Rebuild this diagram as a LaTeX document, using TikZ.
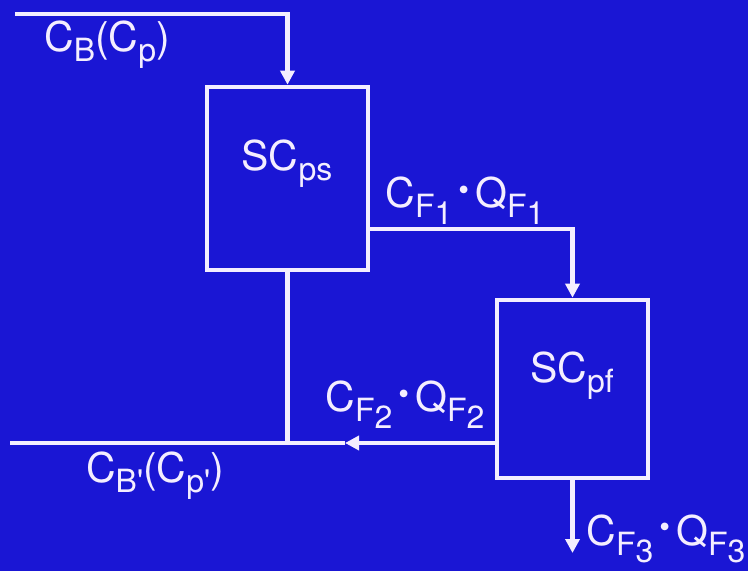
\documentclass[tikz,border=0pt]{standalone}
\usepackage{fontspec}
\setmainfont{TeX Gyre Heros}
\usetikzlibrary{positioning,arrows.meta,calc}
\definecolor{ground}{HTML}{1A16D4}
\definecolor{ink}{HTML}{F4EEFF}
\newcommand\lo[1]{\raisebox{-0.45ex}{\fontsize{16}{17}\selectfont #1}}
\newcommand\dotop{\kern3pt\raisebox{0.35ex}{\scalebox{0.75}{\textbullet}}\kern3pt}

\begin{document}
\begin{tikzpicture}[x=0.5pt,y=-0.5pt,
  line width=2.3pt,draw=ink,
  box/.style={draw=ink,line width=2.3pt,minimum width=#1,inner sep=0pt},
  flow/.style={-{Triangle[length=7pt,width=7pt]}},
  lbl/.style={text=ink,font=\fontsize{20.5}{22}\selectfont,inner sep=0pt}]
\fill[ground] (0,0) rectangle (748,571);
% stages
\node[box=80.5pt,minimum height=91.5pt] (ps) at (287.5,178.5) {};
\node[box=75.5pt,minimum height=89pt] (pf) at (572.5,389) {};
\node[lbl] (psl) at (287,164) {SC\lo{ps}};
\node[lbl] (pfl) at (572,376) {SC\lo{pf}};
% streams
\coordinate (in) at (15,14);
\coordinate (out) at (10,443);
\coordinate (tip) at (345,443);
\coordinate (end) at (572.5,553);
\draw[flow,draw=ink] (in) -| (ps.north);
\draw[flow,draw=ink] ([yshift=-25.25pt]ps.east) -| (pf.north);
\draw[flow,draw=ink] ([yshift=-27pt]pf.west) -- (tip);
\draw[draw=ink] (tip) -- (out);
\draw[draw=ink] (ps.south) -- (ps.south |- out);
\draw[flow,draw=ink] (pf.south) -- (end);
% labels
\node[lbl] (cb) at (107,45) {C\lo{B}(C\lo{p})};
\node[lbl] (f1) at (465,201) {C\lo{F\lo{1}}\dotop Q\lo{F\lo{1}}};
\node[lbl] (f2) at (405,405) {C\lo{F\lo{2}}\dotop Q\lo{F\lo{2}}};
\node[lbl] (cbo) at (155,476) {C\lo{B\textquotesingle}(C\lo{p\textquotesingle})};
\node[lbl] (f3) at (666,539) {C\lo{F\lo{3}}\dotop Q\lo{F\lo{3}}};
\end{tikzpicture}
\end{document}
